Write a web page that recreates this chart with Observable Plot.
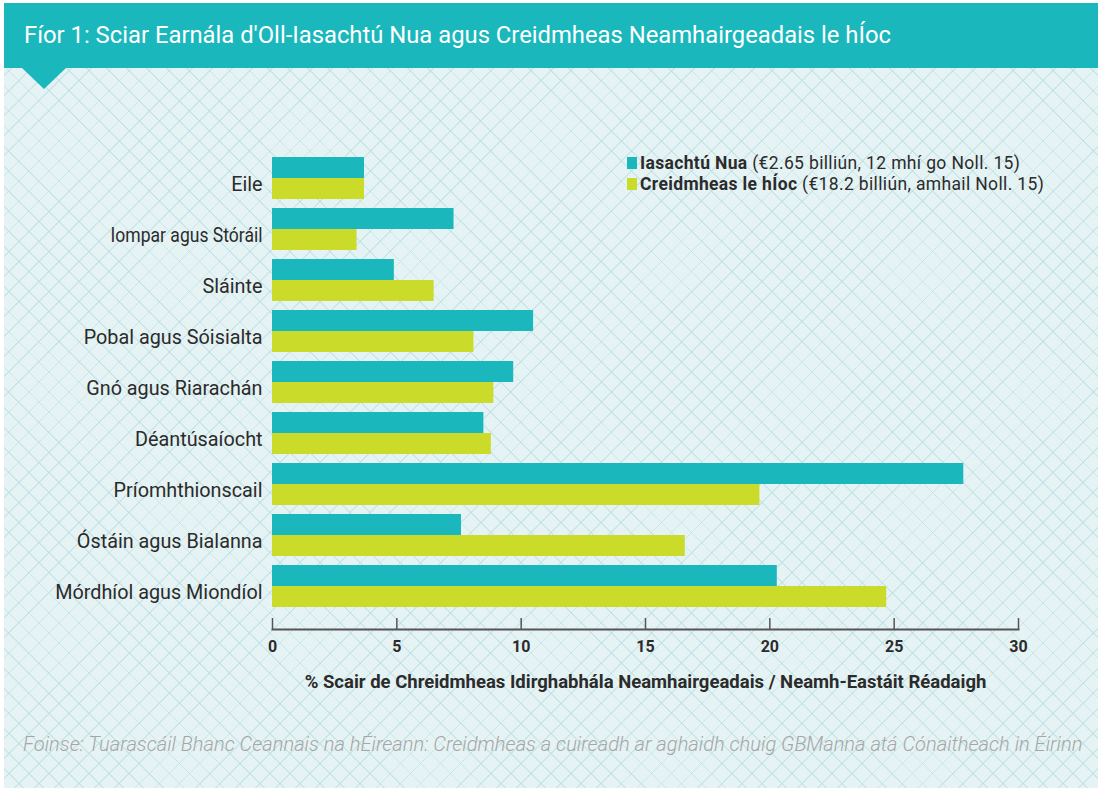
<!DOCTYPE html>
<html>
<head>
<meta charset="utf-8">
<script src="https://cdn.jsdelivr.net/npm/d3@7"></script>
<script src="https://cdn.jsdelivr.net/npm/@observablehq/plot@0.6"></script>
<style>
  html, body { margin: 0; padding: 0; background: #fff; }
  #page { position: relative; width: 1098px; height: 788px; overflow: hidden; background: #fff; font-family: Roboto, "Noto Sans", sans-serif; }
  #bg { position: absolute; left: 4px; top: 3px; right: 0; bottom: 0;
        background-color: #e6f3f4;
        background-image:
          repeating-linear-gradient(45deg, transparent 0 13px, rgba(185,222,224,0.6) 13px 14.2px),
          repeating-linear-gradient(-45deg, transparent 0 13px, rgba(185,222,224,0.6) 13px 14.2px); }
  #titlebar { position: absolute; left: 4px; top: 3px; right: 0; height: 65px; background: #1ab8bc; }
  #title { position: absolute; left: 20px; top: 18px; color: #fff; font-size: 23.8px; font-weight: 400; white-space: nowrap; }
  #notch { position: absolute; left: 22px; top: 68px; width: 0; height: 0;
           border-left: 22px solid transparent; border-right: 22px solid transparent; border-top: 21px solid #1ab8bc; }
  #chart { position: absolute; left: 0; top: 100px; }
  #legend { position: absolute; left: 627px; top: 152px; font-size: 17.5px; color: #2b2b2b; letter-spacing: 0.35px; }
  .lrow { display: flex; align-items: center; height: 21px; white-space: nowrap; }
  .sw { display: inline-block; width: 10px; height: 12px; margin-right: 3px; }
  #footer { position: absolute; left: 23px; top: 732px; font-size: 20.1px; font-style: italic; color: #a6a6a6; white-space: nowrap; font-weight: 300; }
</style>
</head>
<body>
<div id="page">
  <div id="bg"></div>
  <div id="titlebar"><div id="title">Fíor 1: Sciar Earnála d'Oll-Iasachtú Nua agus Creidmheas Neamhairgeadais le hÍoc</div></div>
  <div id="notch"></div>
  <div id="chart"></div>
  <div id="legend"></div>
  <div id="footer">Foinse: Tuarascáil Bhanc Ceannais na hÉireann: Creidmheas a cuireadh ar aghaidh chuig GBManna atá Cónaitheach in Éirinn</div>
</div>
<script>
const sectors = ["Eile", "Iompar agus Stóráil", "Sláinte", "Pobal agus Sóisialta", "Gnó agus Riarachán", "Déantúsaíocht", "Príomhthionscail", "Óstáin agus Bialanna", "Mórdhíol agus Miondíol"];
const newLending = [3.7, 7.3, 4.9, 10.5, 9.7, 8.5, 27.8, 7.6, 20.3];
const creditOutstanding = [3.7, 3.4, 6.5, 8.1, 8.9, 8.8, 19.6, 16.6, 24.7];
const xTicks = [0, 5, 10, 15, 20, 25, 30];
const seriesNames = ["Iasachtú Nua", "Creidmheas le hÍoc"];
const seriesNotes = ["(€2.65 billiún, 12 mhí go Noll. 15)", "(€18.2 billiún, amhail Noll. 15)"];
const axisLabel = "% Scair de Chreidmheas Idirghabhála Neamhairgeadais / Neamh-Eastáit Réadaigh";

const teal = "#1ab8bc";
const lime = "#cadb2a";

const rowsNew = sectors.map((s, i) => ({sector: s, value: newLending[i]}));
const rowsCredit = sectors.map((s, i) => ({sector: s, value: creditOutstanding[i]}));

const chart = Plot.plot({
  width: 1098,
  height: 600,
  marginLeft: 272,
  marginRight: 80,
  marginTop: 40,
  marginBottom: 71,
  style: {background: "transparent", fontFamily: "Roboto, 'Noto Sans', sans-serif", color: "#2b2b2b", overflow: "visible"},
  x: {domain: [0, 30]},
  y: {domain: sectors, range: [51, 513], paddingInner: 0.18, paddingOuter: 0.09},
  marks: [
    Plot.barX(rowsNew, {x: "value", y: "sector", fill: teal, insetBottom: 21}),
    Plot.barX(rowsCredit, {x: "value", y: "sector", fill: lime, insetTop: 21}),
    Plot.frame({anchor: "bottom", stroke: "#555", strokeWidth: 2}),
    Plot.axisX({ticks: xTicks, tickSize: 11, dy: -11, tickFormat: () => "", label: null, stroke: "#555", strokeWidth: 1.5}),
    Plot.axisX({ticks: xTicks, tickSize: 0, tickPadding: 11, fontSize: 16, fontWeight: "bold", fill: "#2b2b2b",
                label: axisLabel, labelAnchor: "center", labelArrow: "none", labelOffset: 58}),
    Plot.axisY({tickSize: 0, tickPadding: 10, fontSize: 19.8, dy: 6, fill: "#2b2b2b", label: null})
  ]
});
chart.querySelectorAll("g[aria-label='x-axis label']").forEach(e => { e.setAttribute("font-weight", "bold"); e.setAttribute("font-size", "18.5"); });
chart.querySelectorAll("g[aria-label='y-axis tick label'] text").forEach(t => {
  if (t.textContent === "Iompar agus Stóráil") { t.setAttribute("textLength", "152"); t.setAttribute("lengthAdjust", "spacingAndGlyphs"); }
});
document.getElementById("chart").appendChild(chart);

const legend = document.getElementById("legend");
[teal, lime].forEach((c, i) => {
  const row = document.createElement("div");
  row.className = "lrow";
  row.innerHTML = `<span class="sw" style="background:${c}"></span><b>${seriesNames[i]}</b>&nbsp;${seriesNotes[i]}`;
  legend.appendChild(row);
});
</script>
</body>
</html>
